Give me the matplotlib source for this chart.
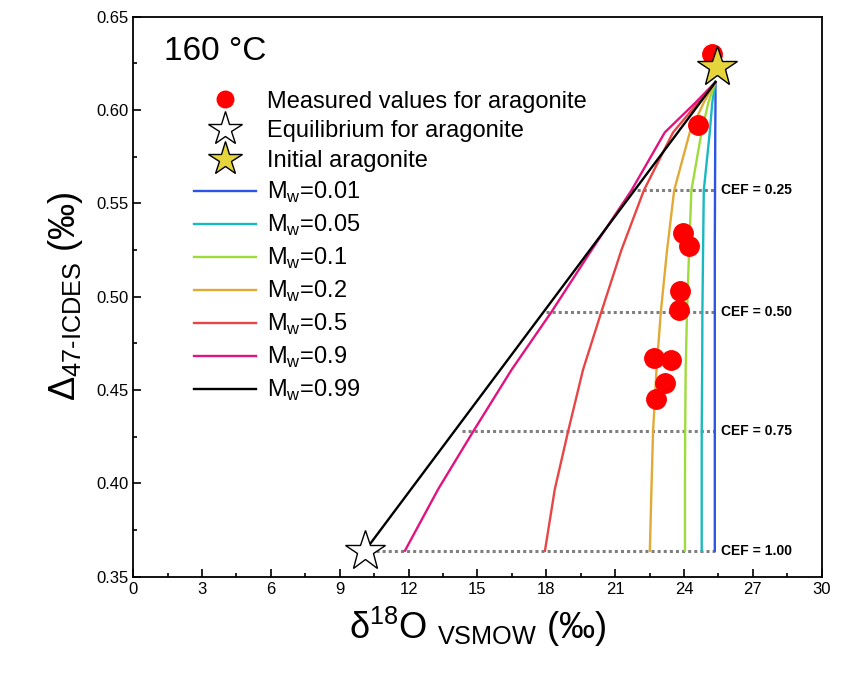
import matplotlib
matplotlib.use('Agg')
import matplotlib.pyplot as plt

plt.rcParams['font.family'] = ['Liberation Sans', 'DejaVu Sans']
plt.rcParams['mathtext.fontset'] = 'custom'
plt.rcParams['mathtext.rm'] = 'Liberation Sans'

# model curves at fixed Delta47 levels
y_levels = [0.615, 0.604, 0.588, 0.557, 0.525, 0.492, 0.461, 0.428, 0.397, 0.364]
curves = {
    'M$_\\mathregular{w}$=0.01': ([25.37, 25.37, 25.36, 25.35, 25.34, 25.34, 25.34, 25.34, 25.34, 25.34], '#2b55e6'),
    'M$_\\mathregular{w}$=0.05': ([25.37, 25.23, 25.12, 24.86, 24.83, 24.80, 24.79, 24.77, 24.77, 24.77], '#19b9c2'),
    'M$_\\mathregular{w}$=0.1': ([25.37, 25.06, 24.76, 24.32, 24.22, 24.13, 24.07, 24.05, 24.04, 24.04], '#9ddc3a'),
    'M$_\\mathregular{w}$=0.2': ([25.37, 24.86, 24.25, 23.57, 23.26, 22.99, 22.80, 22.65, 22.58, 22.51], '#e2a935'),
    'M$_\\mathregular{w}$=0.5': ([25.37, 24.61, 23.52, 22.25, 21.27, 20.40, 19.60, 18.95, 18.37, 17.94], '#e84545'),
    'M$_\\mathregular{w}$=0.9': ([25.37, 24.50, 23.16, 21.71, 19.97, 18.23, 16.49, 14.82, 13.29, 11.84], '#e0137f'),
}
black_x = [25.37, 10.1]
black_y = [0.615, 0.364]

meas_x = [25.21, 24.62, 23.94, 24.23, 23.84, 23.79, 22.67, 23.41, 23.16, 22.77]
meas_y = [0.630, 0.592, 0.534, 0.527, 0.503, 0.493, 0.467, 0.466, 0.454, 0.445]

eq = (10.1, 0.364)
init = (25.45, 0.623)

cef_labels = ['CEF = 0.25', 'CEF = 0.50', 'CEF = 0.75', 'CEF = 1.00']
cef_y = [0.557, 0.492, 0.428, 0.364]
cef_start = [21.7, 17.98, 14.31, 10.6]
cef_end = 25.37

fig = plt.figure(figsize=(8.65, 6.95), dpi=100)
ax = fig.add_axes([0.154, 0.170, 0.796, 0.806])

for y, x0, lab in zip(cef_y, cef_start, cef_labels):
    ax.plot([x0, cef_end], [y, y], color='gray', ls=(0, (1, 1)), lw=2.2, zorder=1)
    ax.text(cef_end + 0.25, y, lab, fontsize=10, fontweight='bold', va='center')

h_meas, = ax.plot(meas_x, meas_y, 'o', color='red', ms=14, ls='none', zorder=4,
                  label='Measured values for aragonite')
h_eq, = ax.plot(*eq, marker='*', color='white', mec='black', ms=30, ls='none',
                zorder=5, label='Equilibrium for aragonite')
h_init, = ax.plot(*init, marker='*', color='#e6d43c', mec='black', ms=30, ls='none',
                  zorder=5, label='Initial aragonite')

line_handles = []
for lab, (xs, col) in curves.items():
    h, = ax.plot(xs, y_levels, color=col, lw=1.7, label=lab, zorder=2)
    line_handles.append(h)
h, = ax.plot(black_x, black_y, color='black', lw=1.7, label='M$_\\mathregular{w}$=0.99', zorder=2)
line_handles.append(h)

ax.set_xlim(0, 30)
ax.set_ylim(0.35, 0.65)
ax.set_xticks(range(0, 31, 3))
ax.set_xticks([x + 1.5 for x in range(0, 30, 3)], minor=True)
ax.set_yticks([0.35, 0.40, 0.45, 0.50, 0.55, 0.60, 0.65])
ax.set_yticks([0.375, 0.425, 0.475, 0.525, 0.575, 0.625], minor=True)
ax.set_yticklabels(['0.35', '0.40', '0.45', '0.50', '0.55', '0.60', '0.65'])
ax.tick_params(direction='in', labelsize=12, length=6, width=1.2)
ax.tick_params(which='minor', direction='in', length=3, width=1.2)
for s in ax.spines.values():
    s.set_linewidth(1.3)

ax.set_xlabel('δ$^{18}$O $_{\\mathregular{VSMOW}}$ (‰)', fontsize=26, labelpad=6)
ax.set_ylabel('Δ$_{\\mathregular{47\\text{-}ICDES}}$ (‰)', fontsize=26, labelpad=8)
ax.text(0.045, 0.965, '160 °C', transform=ax.transAxes, fontsize=24, va='top')

leg = ax.legend(handles=[h_meas, h_eq, h_init] + line_handles,
                loc='upper left', bbox_to_anchor=(0.075, 0.885), frameon=False,
                fontsize=17, handlelength=2.6, labelspacing=0.33,
                handletextpad=0.5, borderaxespad=0, markerscale=0.85)

fig.savefig('out.png', dpi=100)
